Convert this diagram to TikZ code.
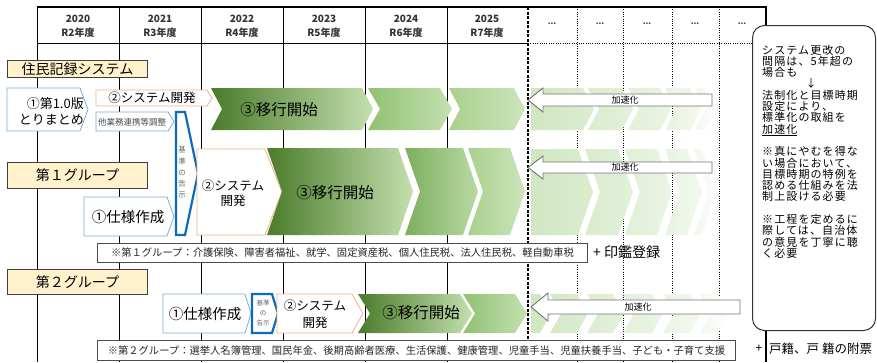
\documentclass[tikz,border=0pt]{standalone}
\usepackage{fontspec}
\setmainfont{Noto Sans CJK JP}
\newfontfamily\boxfont[LetterSpace=10]{Noto Sans CJK JP}
\definecolor{labelyellow}{HTML}{FFF2CC}
\definecolor{boxblue}{HTML}{7AAADC}
\definecolor{boxorange}{HTML}{F4B183}
\definecolor{kijunblue}{HTML}{0B6BBF}
\definecolor{gA1}{HTML}{4B7C2B}
\definecolor{gA2}{HTML}{C3DFAE}
\definecolor{gB1}{HTML}{90C173}
\definecolor{gB2}{HTML}{C4E0B0}
\definecolor{gC1}{HTML}{A9D08E}
\definecolor{gC2}{HTML}{CCE5BB}
\definecolor{gR1}{HTML}{7DAE5E}
\definecolor{gR2}{HTML}{B9DAA3}
\definecolor{fadeg}{HTML}{CDE5BD}
\newcommand\fsz[2]{\fontsize{#1}{#2}\selectfont}
% #1 style, #2 left x, #3 top-right x, #4 top y, #5 bottom y, #6 tip depth
\newcommand\MyChev[6]{\path[#1] (#2,#4) -- (#3,#4) -- ({#3+#6},{(#4+#5)/2}) -- (#3,#5) -- (#2,#5) -- ({#2+#6},{(#4+#5)/2}) -- cycle;}
\newcommand\MyPent[6]{\path[#1] (#2,#4) -- (#3,#4) -- ({#3+#6},{(#4+#5)/2}) -- (#3,#5) -- (#2,#5) -- cycle;}
\tikzset{
  grp/.style={draw=black!75, fill=labelyellow, line width=0.9pt, inner sep=0pt},
  bluebox/.style={draw=boxblue, fill=white, line width=0.8pt},
  orgbox/.style={draw=boxorange, fill=white, line width=0.8pt},
  kijun/.style={draw=kijunblue, fill=white, line width=2.2pt, line join=miter},
  gshade/.style n args={2}{shade, left color=#1, right color=#2, draw=none},
  accel/.style={draw=black!55, fill=white, line width=0.9pt},
  fnbox/.style={draw=black!70, fill=white, line width=0.9pt, inner sep=0pt},
  hdr/.style={font=\fsz{10}{12}\bfseries, text=black!80, inner sep=0pt},
  txt/.style={inner sep=0pt, text=black},
}
\begin{document}
\begin{tikzpicture}[x=1pt,y=-1pt]
\useasboundingbox (0,0) rectangle (877,362);
% ---------- grid ----------
\foreach \x in {37,119,201,283,365,447} \draw[line width=1pt] (\x,7) -- (\x,362);
\foreach \x in {577,623,672,719} \draw[line width=0.8pt, dash pattern=on 1pt off 1.3pt] (\x,7) -- (\x,362);
\draw[line width=1.1pt] (37,7) -- (766,7) -- (766,362);
\draw[line width=1pt] (37,43) -- (528,43);
\draw[line width=0.8pt, dash pattern=on 1pt off 1.3pt] (528,43) -- (766,43);
\draw[line width=2.4pt, dash pattern=on 3pt off 1.5pt] (528,7) -- (528,362);
% ---------- header ----------
\foreach \x/\yy/\rr [count=\i] in {78/2020/R2,160/2021/R3,242/2022/R4,324/2023/R5,406/2024/R6,487/2025/R7}{
  \node[hdr] (yr\i) at (\x,19) {\yy};
  \node[hdr] (fy\i) at (\x,33) {\rr{}年度};
}
\foreach \x [count=\i] in {552,600,647,695,742} \node[hdr, font=\fsz{8}{10}\bfseries] (dots\i) at (\x,24) {...};
% ---------- faded chevrons ----------
\MyPent{gshade={fadeg!95}{fadeg!70}}{531}{583}{88}{130}{11}
\MyChev{gshade={fadeg!75}{fadeg!55}}{588}{622}{88}{130}{11}
\MyChev{gshade={fadeg!60}{fadeg!42}}{628}{660}{88}{130}{11}
\MyChev{gshade={fadeg!45}{fadeg!25}}{665}{690}{88}{130}{11}
\MyChev{gshade={fadeg!28}{fadeg!5}}{695}{705}{88}{130}{11}
\MyPent{gshade={fadeg!95}{fadeg!70}}{531}{578}{149}{235}{15}
\MyChev{gshade={fadeg!76}{fadeg!56}}{585}{618}{149}{235}{15}
\MyChev{gshade={fadeg!60}{fadeg!42}}{625}{657}{149}{235}{15}
\MyChev{gshade={fadeg!45}{fadeg!25}}{665}{687}{149}{235}{15}
\MyChev{gshade={fadeg!28}{fadeg!5}}{694}{702}{149}{235}{15}
\MyPent{gshade={fadeg!95}{fadeg!85}}{531}{540}{294}{333}{11}
\MyChev{gshade={fadeg!85}{fadeg!70}}{550}{577}{294}{333}{11}
\MyChev{gshade={fadeg!70}{fadeg!55}}{587}{613}{294}{333}{11}
\MyChev{gshade={fadeg!56}{fadeg!40}}{623}{652}{294}{333}{11}
\MyChev{gshade={fadeg!40}{fadeg!24}}{663}{690}{294}{333}{11}
\MyChev{gshade={fadeg!24}{fadeg!5}}{700}{718}{294}{333}{11}
% ---------- row 1 ----------
\node[grp, minimum width=140pt, minimum height=17pt, anchor=north west, font=\fsz{14}{16}] (jumin) at (7,60) {住民記録システム};
\MyPent{bluebox}{7}{80}{88}{131}{8}
\node[txt, align=right, anchor=east, font=\fsz{13}{16}] (ver10) at (84,111) {①第1.0版\\とりまとめ};
\MyPent{orgbox}{96}{207}{90}{106}{5}
\node[txt, font=\fsz{12.5}{15}] (dev1) at (152,98) {②システム開発};
\MyPent{bluebox}{96}{168}{112}{131}{6}
\node[txt, font=\fsz{8.5}{10}, text=black!70] (tagyo) at (132,122) {他業務連携等調整};
\MyChev{gshade={gA1}{gA2}}{211}{362}{88}{130}{11}
\node[txt, font=\fsz{15.5}{18}] (mig1) at (279,110) {③移行開始};
\MyChev{gshade={gB1}{gB2}}{368}{440}{88}{130}{12}
\MyChev{gshade={gC1}{gC2}}{449}{514}{88}{130}{11}
% ---------- row 2 ----------
\node[grp, minimum width=140pt, minimum height=26pt, anchor=north west, font=\fsz{14}{16}] (grp1) at (7,162) {第１グループ};
\MyPent{bluebox}{84}{167}{197}{236}{7}
\node[txt, font=\fsz{14.5}{17}] (spec1) at (128,217) {①仕様作成};
\MyPent{kijun}{176}{185}{112}{235}{13}
\node[txt, font=\fsz{7.5}{11.2}, align=center, text=black!60] (kj1) at (182,172.5) {基\\準\\の\\告\\示};
\MyPent{orgbox}{197}{265}{149}{235}{17}
\node[txt, align=center, font=\fsz{12.5}{15}] (dev2) at (233,193.5) {②システム\\開発};
\MyChev{gshade={gA1}{gA2}}{267}{398}{148}{235}{15}
\node[txt, font=\fsz{15.5}{18}] (mig2) at (335,193) {③移行開始};
\MyChev{gshade={gR1}{gR2}}{405}{463}{148}{235}{15}
\MyChev{gshade={gC1}{gC2}}{468}{510}{148}{235}{15}
\node[fnbox, minimum width=490pt, minimum height=19pt, anchor=north west, font=\fsz{10.3}{12}, text=black!85] (fn1) at (97,243) {※第１グループ：介護保険、障害者福祉、就学、固定資産税、個人住民税、法人住民税、軽自動車税};
\node[txt, anchor=west, font=\fsz{14}{16}] (inkan) at (593,252) {+ 印鑑登録};
% ---------- row 3 ----------
\node[grp, minimum width=140pt, minimum height=25pt, anchor=north west, font=\fsz{14}{16}] (grp2) at (7,269) {第２グループ};
\MyPent{bluebox}{163}{245}{294}{333}{6}
\node[txt, font=\fsz{14.5}{17}] (spec2) at (205,314) {①仕様作成};
\MyPent{kijun}{252}{272}{294}{333}{6}
\node[txt, font=\fsz{6.5}{10}, align=center, text=black!60] (kj2) at (263,313.5) {基準\\の\\告示};
\MyPent{orgbox}{277}{352}{294}{333}{11}
\node[txt, align=center, font=\fsz{12.5}{17.5}] (dev3) at (315,314) {②システム\\開発};
\MyChev{gshade={gA1}{gA2}}{358}{460}{294}{333}{12}
\node[txt, font=\fsz{15.5}{18}] (mig3) at (421,313) {③移行開始};
\MyChev{gshade={gB1}{gB2}}{463}{515}{294}{333}{12}
\node[fnbox, minimum width=638pt, minimum height=20pt, anchor=north west, font=\fsz{10.3}{12}, text=black!85] (fn2) at (97,340) {※第２グループ：選挙人名簿管理、国民年金、後期高齢者医療、生活保護、健康管理、児童手当、児童扶養手当、子ども・子育て支援};
% ---------- accelerate arrows ----------
\path[accel] (528,100) -- (543,88) -- (543,94) -- (712,94) -- (712,106) -- (543,106) -- (543,112) -- cycle;
\node[txt, font=\fsz{9}{10}] (acc1) at (625,100) {加速化};
\path[accel] (528,167.5) -- (543,156) -- (543,162) -- (712,162) -- (712,173) -- (543,173) -- (543,179) -- cycle;
\node[txt, font=\fsz{9}{10}] (acc2) at (625,167.5) {加速化};
\path[accel] (531,307) -- (548,293) -- (548,300) -- (740,300) -- (740,314) -- (548,314) -- (548,321) -- cycle;
\node[txt, font=\fsz{9}{10}] (acc3) at (638,307) {加速化};
% ---------- note box ----------
\node[draw=black!80, fill=white, rounded corners=12pt, line width=1pt, minimum width=123pt, minimum height=305pt, anchor=north west, inner sep=0pt] (notebox) at (752,25) {};
\foreach \t [count=\i] in {システム更改の,間隔は、5年超の,場合も,\makebox[98pt]{↓},法制化と目標時期,設定により、,標準化の取組を,\underline{加速化},{},※真にやむを得な,い場合において、,目標時期の特例を,認める仕組みを法,制上設ける必要,{},※工程を定めるに,際しては、自治体,の意見を丁寧に聴,く必要}
  \node[txt, anchor=base west, font=\boxfont\fsz{11}{11.3}] (note\i) at (762,{54+(\i-1)*11.3}) {\t};
% ---------- bottom right ----------
\node[txt, font=\fsz{12}{14}] (plus2) at (759,349) {+};
\node[txt, anchor=west, font=\fsz{12.5}{14}] (koseki) at (769,349) {戸籍、戸 籍の附票};
\end{tikzpicture}
\end{document}
